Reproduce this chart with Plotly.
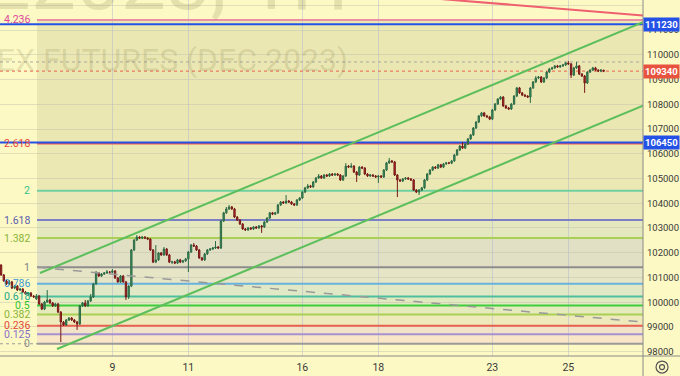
import plotly.graph_objects as go

# ---------------- data (hourly candles, RIZ2023) ----------------
opens = [
    101790, 101500, 101100, 100860, 100740, 100820, 100570, 100650, 100490, 100530, 100410, 100330, 100370, 100250,
    100130, 100250, 99930, 99720, 100010, 100090, 99970, 99850, 99930, 99600, 99200, 99080, 99280, 99360,
    99280, 99200, 99120, 99850, 99970, 99850, 100050, 100210, 100740, 101180, 101060, 101140, 101180, 101220,
    101210, 101260, 100980, 100820, 101060, 100820, 100210, 100650, 102110, 102510, 102630, 102590, 102630, 102590,
    102550, 102110, 101620, 101710, 101990, 101910, 102150, 101910, 101620, 101630, 101580, 101710, 101620, 101670,
    101750, 102030, 102310, 102270, 102110, 101790, 101710, 101950, 102110, 102150, 102190, 102230, 102190, 103280,
    103610, 103770, 103850, 103770, 103440, 103320, 103160, 102960, 102920, 103000, 102960, 103040, 103000, 103080,
    103040, 103240, 103400, 103610, 103560, 103610, 103930, 104050, 104010, 104090, 104050, 103970, 103930, 104130,
    104210, 104450, 104620, 104700, 104660, 104860, 105020, 105100, 105020, 105140, 105100, 105180, 105140, 105180,
    105140, 104940, 105100, 105500, 105460, 105500, 105260, 105140, 105460, 105420, 105180, 105100, 105140, 105100,
    105060, 105100, 105060, 105340, 105630, 105710, 105670, 105140, 104940, 104900, 104980, 105020, 104980, 104940,
    104530, 104450, 104530, 104620, 104940, 105180, 105340, 105460, 105420, 105550, 105460, 105590, 105630, 105620,
    105710, 105950, 106150, 106310, 106230, 106390, 106600, 106760, 107040, 107280, 107530, 107650, 107530, 107490,
    107400, 107770, 108010, 108210, 108290, 107930, 107850, 107810, 108010, 108330, 108660, 108460, 108370, 108330,
    108290, 108660, 108900, 109060, 109100, 108900, 109060, 109300, 109430, 109470, 109550, 109510, 109550, 109590,
    109670, 109630, 109180, 109470, 109550, 109220, 109140, 108860, 109300, 109380, 109470, 109380, 109340, 109380,
]
closes = [
    101500, 101100, 100860, 100740, 100820, 100570, 100650, 100490, 100530, 100410, 100330, 100370, 100250, 100210,
    100250, 99930, 99720, 100010, 100090, 99970, 99850, 99930, 99600, 99200, 99080, 99280, 99360, 99280,
    99200, 99120, 99850, 99970, 99850, 100050, 100210, 100740, 101180, 101060, 101140, 101180, 101220, 101210,
    101260, 100980, 100820, 101060, 100820, 100210, 100650, 102110, 102510, 102630, 102590, 102630, 102590, 102550,
    102110, 101620, 101710, 101990, 101910, 102150, 101910, 101620, 101630, 101580, 101710, 101620, 101670, 101750,
    102030, 102310, 102270, 102110, 101790, 101710, 101950, 102110, 102150, 102190, 102230, 102190, 103280, 103610,
    103770, 103850, 103770, 103440, 103320, 103160, 102960, 102920, 103000, 102960, 103040, 103000, 103080, 103040,
    103240, 103400, 103610, 103560, 103610, 103930, 104050, 104010, 104090, 104050, 103970, 103930, 104130, 104210,
    104450, 104620, 104700, 104660, 104860, 105020, 105100, 105020, 105140, 105100, 105180, 105140, 105180, 105140,
    104940, 105100, 105500, 105460, 105500, 105260, 105140, 105460, 105420, 105180, 105100, 105140, 105100, 105060,
    105100, 105060, 105340, 105630, 105710, 105670, 105140, 104940, 104900, 104980, 105020, 104980, 104940, 104530,
    104450, 104530, 104620, 104940, 105180, 105340, 105460, 105420, 105550, 105460, 105590, 105630, 105620, 105710,
    105950, 106150, 106310, 106230, 106390, 106600, 106760, 107040, 107280, 107530, 107650, 107530, 107490, 107400,
    107770, 108010, 108210, 108290, 107930, 107850, 107810, 108010, 108330, 108660, 108460, 108370, 108330, 108290,
    108660, 108900, 109060, 109100, 108900, 109060, 109300, 109430, 109470, 109550, 109510, 109550, 109590, 109670,
    109630, 109180, 109470, 109550, 109220, 109140, 108860, 109300, 109380, 109470, 109380, 109340, 109380, 109340,
]
highs = [
    101830, 101540, 101140, 100900, 100900, 100860, 100700, 100690, 100580, 100570, 100450, 100410, 100410, 100290,
    100330, 100290, 99970, 100050, 100490, 100130, 100010, 99970, 99970, 99640, 99240, 99320, 99400, 99400,
    99320, 99240, 99890, 100010, 100090, 100090, 100330, 100780, 101260, 101220, 101180, 101220, 101300, 101260,
    101340, 101300, 101020, 101100, 101100, 100860, 100690, 102150, 102550, 102710, 102670, 102670, 102670, 102630,
    102590, 102150, 102310, 102030, 102030, 102230, 102190, 101950, 101670, 101670, 101750, 101750, 101710, 101790,
    102070, 102350, 102390, 102310, 102150, 101830, 101990, 102150, 102190, 102230, 102470, 102270, 103320, 103650,
    103850, 103930, 103890, 103810, 103480, 103360, 103200, 103000, 103040, 103040, 103080, 103080, 103120, 103120,
    103280, 103440, 103650, 103650, 103650, 103970, 104090, 104090, 104330, 104130, 104090, 104010, 104170, 104250,
    104490, 104660, 104780, 104740, 104900, 105060, 105180, 105140, 105180, 105180, 105220, 105220, 105220, 105220,
    105180, 105140, 105620, 105540, 105620, 105540, 105300, 105500, 105500, 105460, 105220, 105180, 105180, 105140,
    105140, 105140, 105380, 105670, 105830, 105750, 105710, 105180, 104980, 105020, 105060, 105060, 105020, 104980,
    104570, 104570, 104660, 104980, 105220, 105380, 105500, 105500, 105590, 105590, 105630, 105670, 105670, 105750,
    105990, 106190, 106350, 106470, 106430, 106640, 106800, 107080, 107320, 107570, 107690, 107690, 107570, 107530,
    107810, 108050, 108250, 108330, 108330, 107970, 107890, 108050, 108370, 108700, 108700, 108500, 108410, 108370,
    108700, 108940, 109140, 109140, 109140, 109100, 109340, 109470, 109510, 109590, 109590, 109590, 109630, 109710,
    109750, 109670, 109510, 109710, 109590, 109260, 109180, 109340, 109420, 109510, 109510, 109420, 109420, 109380,
]
lows = [
    101460, 101060, 100820, 100700, 100700, 100530, 100530, 100450, 100450, 100370, 100290, 100290, 100210, 100170,
    100090, 99890, 99680, 99680, 99970, 99930, 99810, 99810, 99560, 98390, 99040, 99040, 99240, 99240,
    99160, 98880, 99080, 99810, 99810, 99810, 100010, 100170, 100700, 101020, 101020, 101100, 101140, 101170,
    101170, 100940, 100780, 100780, 100780, 100090, 100130, 100610, 102070, 102470, 102550, 102550, 102550, 102510,
    102070, 101580, 101580, 101670, 101870, 101870, 101870, 101580, 101540, 101540, 101540, 101580, 101580, 101630,
    101220, 101990, 102230, 102070, 101750, 101670, 101670, 101910, 102070, 102110, 102150, 102150, 102150, 103240,
    103570, 103730, 103730, 103400, 103280, 103120, 102920, 102880, 102880, 102920, 102920, 102960, 102960, 102800,
    103000, 103200, 103360, 103520, 103520, 103570, 103890, 103970, 103970, 104010, 103930, 103890, 103890, 104090,
    104170, 104410, 104580, 104620, 104620, 104820, 104980, 104980, 104980, 105060, 105060, 105100, 105100, 105100,
    104900, 104900, 105060, 105420, 105420, 105220, 104860, 105100, 105380, 105140, 105060, 105060, 105060, 105020,
    104820, 105020, 105020, 105300, 105590, 105630, 105100, 104250, 104860, 104860, 104940, 104940, 104900, 104490,
    104410, 104330, 104490, 104580, 104900, 105140, 105300, 105380, 105380, 105420, 105420, 105550, 105580, 105580,
    105670, 105910, 106110, 106190, 106190, 106350, 106560, 106720, 107000, 107240, 107490, 107490, 107450, 107360,
    107360, 107730, 107970, 108170, 107890, 107810, 107770, 107770, 107970, 108290, 108420, 108330, 108290, 108250,
    108050, 108620, 108860, 109020, 108860, 108860, 109020, 109260, 109390, 109430, 109470, 109470, 109510, 109550,
    109590, 109060, 109140, 109430, 109180, 109100, 108460, 108820, 109260, 109340, 109340, 109300, 109300, 109300,
]
assert len(opens) == len(closes) == len(highs) == len(lows) == 224

candle_idx = list(range(len(closes)))

day_tick_idx = [42, 70, 112, 140, 182, 210]
day_tick_text = ["9", "11", "16", "18", "23", "25"]
price_ticks = list(range(98000, 112001, 1000))

# Fibonacci extension drawing
fib_levels = [0, 0.125, 0.236, 0.382, 0.5, 0.618, 0.786, 1, 1.382, 1.618, 2, 2.618, 4.236]
fib_labels = ["0", "0.125", "0.236", "0.382", "0.5", "0.618", "0.786", "1", "1.382", "1.618", "2", "2.618", "4.236"]
fib_line_colors = ["#9a9a9a", "#a592d2", "#e8604f", "#a9cf55", "#3fcc3f", "#4dbf9f", "#68b2de",
                   "#8c8c8c", "#a9cf55", "#7c7fc4", "#6fd0a2", "#f05a48", "#eb8fa5"]
fib_text_colors = ["#8a8a8a", "#8b70c8", "#e2483c", "#8ab43a", "#2fc42f", "#1aa88a", "#3d9ad6",
                   "#7c7f88", "#8ab43a", "#5a5fb0", "#36bf8a", "#e8483a", "#e0479a"]
fib_band_colors = ["#f9e6c6", "#f1e2c8", "#eeeabc", "#e6ebbd", "#e1eabf", "#e0e8c5", "#e6e5c6",
                   "#e2e0c4", "#e4e8be", "#e9e7b8", "#ebe8b3", "#ebe7b2"]
fib_price_0 = 98320
fib_price_1 = 101410
fib_start_idx = 14.24
fib_trend_x = [14.24, 237.5]
fib_trend_y = [101410, 99195]

# drawn lines
hline_prices = [111230, 106450]
last_price = 109340
prev_high_price = 109710
channel_upper_x = [15.34, 237.5]
channel_upper_y = [101179, 111314]
channel_lower_x = [21.61, 237.5]
channel_lower_y = [98107, 107947]
red_trend_x = [150, 237.5]
red_trend_y = [112369, 111592]

x_range = [0.6, 237.5]
y_range = [97825, 112214]

BG = "#fdf9c4"
FONT = "Roboto"

fig = go.Figure()

# channel + trend lines
fig.add_trace(go.Scatter(x=fib_trend_x, y=fib_trend_y, mode="lines",
                         line=dict(color="#9a9a9a", width=1.5, dash="dash"), hoverinfo="skip"))
fig.add_trace(go.Scatter(x=channel_upper_x, y=channel_upper_y, mode="lines",
                         line=dict(color="#5cbf5c", width=2), hoverinfo="skip"))
fig.add_trace(go.Scatter(x=channel_lower_x, y=channel_lower_y, mode="lines",
                         line=dict(color="#5cbf5c", width=2), hoverinfo="skip"))
fig.add_trace(go.Scatter(x=red_trend_x, y=red_trend_y, mode="lines",
                         line=dict(color="#ef6070", width=2), hoverinfo="skip"))

fig.add_trace(go.Candlestick(
    x=candle_idx, open=opens, high=highs, low=lows, close=closes,
    increasing=dict(line=dict(color="#2c6a45", width=1), fillcolor="#3c9663"),
    decreasing=dict(line=dict(color="#761818", width=1), fillcolor="#bb2c26"),
    whiskerwidth=0, hoverinfo="skip",
))

shapes = []
annotations = []
unit = fib_price_1 - fib_price_0
fib_prices = [fib_price_0 + lv * unit for lv in fib_levels]
for k in range(len(fib_levels) - 1):
    shapes.append(dict(type="rect", xref="x", yref="y", x0=fib_start_idx, x1=x_range[1],
                       y0=fib_prices[k], y1=fib_prices[k + 1], fillcolor=fib_band_colors[k],
                       line=dict(width=0), layer="below"))
for k, p in enumerate(fib_prices):
    shapes.append(dict(type="line", xref="x", yref="y", x0=fib_start_idx, x1=x_range[1],
                       y0=p, y1=p, line=dict(color=fib_line_colors[k], width=2), layer="between"))
    annotations.append(dict(x=fib_start_idx - 1.7, y=p, xref="x", yref="y", text=fib_labels[k],
                            xanchor="right", yanchor="middle", showarrow=False,
                            font=dict(family=FONT, size=10.5, color=fib_text_colors[k])))
# dotted extension of fib 0 to the left
shapes.append(dict(type="line", xref="x", yref="y", x0=x_range[0], x1=fib_start_idx,
                   y0=fib_prices[0], y1=fib_prices[0], line=dict(color="#9a9a9a", width=1, dash="dot"),
                   layer="between"))

# horizontal blue levels
for p in hline_prices:
    shapes.append(dict(type="line", xref="x", yref="y", x0=x_range[0], x1=x_range[1], y0=p, y1=p,
                       line=dict(color="#2451e6", width=2), layer="between"))
# dotted price lines
shapes.append(dict(type="line", xref="x", yref="y", x0=x_range[0], x1=x_range[1],
                   y0=prev_high_price, y1=prev_high_price,
                   line=dict(color="#a8a8a0", width=1, dash="dot"), layer="between"))
shapes.append(dict(type="line", xref="x", yref="y", x0=x_range[0], x1=x_range[1],
                   y0=last_price, y1=last_price,
                   line=dict(color="#e8604a", width=1, dash="dot"), layer="between"))

# axis separators
shapes.append(dict(type="line", xref="paper", yref="paper", x0=1, x1=1, y0=-0.06, y1=1,
                   line=dict(color="#8a8a86", width=1), layer="above"))
shapes.append(dict(type="line", xref="paper", yref="paper", x0=0, x1=1.06, y0=0, y1=0,
                   line=dict(color="#8a8a86", width=1), layer="above"))

# settings icon
shapes.append(dict(type="circle", xref="paper", yref="paper", xsizemode="pixel", ysizemode="pixel",
                   xanchor=1.0296, yanchor=-0.031, x0=-6, x1=6, y0=-6, y1=6,
                   line=dict(color="#555555", width=1.2), layer="above"))
shapes.append(dict(type="circle", xref="paper", yref="paper", xsizemode="pixel", ysizemode="pixel",
                   xanchor=1.0296, yanchor=-0.031, x0=-2.5, x1=2.5, y0=-2.5, y1=2.5,
                   line=dict(color="#555555", width=1.2), layer="above"))

# watermark
annotations.append(dict(x=0.545, y=1.0, xref="paper", yref="paper", text="RIZ2023, 1H",
                        xanchor="right", yanchor="bottom", yshift=-31, showarrow=False,
                        font=dict(family=FONT, size=80, color="rgba(110,105,60,0.17)")))
annotations.append(dict(x=0.545, y=1 - 60 / 356, xref="paper", yref="paper",
                        text="RTS INDEX FUTURES (DEC 2023)",
                        xanchor="right", yanchor="middle", showarrow=False,
                        font=dict(family=FONT, size=32, color="rgba(110,105,60,0.17)")))

# price boxes on the axis
for p, col in [(hline_prices[0], "#2451e6"), (last_price, "#e8533f"), (hline_prices[1], "#2451e6")]:
    annotations.append(dict(x=1, y=p, xref="paper", yref="y", text=f"<b>{p}</b>", xanchor="left",
                            yanchor="middle", showarrow=False, xshift=0, bgcolor=col, borderpad=1,
                            font=dict(family=FONT, size=9.5, color="white")))

fig.update_layout(
    width=680, height=376,
    margin=dict(l=0, r=37, t=0, b=20, autoexpand=False),
    paper_bgcolor=BG, plot_bgcolor=BG,
    showlegend=False,
    shapes=shapes, annotations=annotations,
    xaxis=dict(range=x_range, tickmode="array", tickvals=day_tick_idx, ticktext=day_tick_text,
               showgrid=True, gridcolor="rgba(170,178,210,0.45)", gridwidth=1, automargin=False,
               zeroline=False, showline=False, ticks="", ticklabelstandoff=3,
               tickfont=dict(family=FONT, size=10.5, color="#3a3a3a"),
               rangeslider=dict(visible=False), fixedrange=True),
    yaxis=dict(range=y_range, side="right", tickmode="array", tickvals=price_ticks,
               ticktext=[str(v) for v in price_ticks],
               showgrid=True, gridcolor="rgba(190,190,170,0.45)", gridwidth=1, automargin=False,
               zeroline=False, showline=False, ticks="", ticklabelstandoff=3,
               tickfont=dict(family=FONT, size=9.5, color="#3a3a3a"), fixedrange=True),
)

fig.write_html("out.html", config={"displayModeBar": False},
               post_script="document.body.style.margin='0';document.body.style.overflow='hidden';")
